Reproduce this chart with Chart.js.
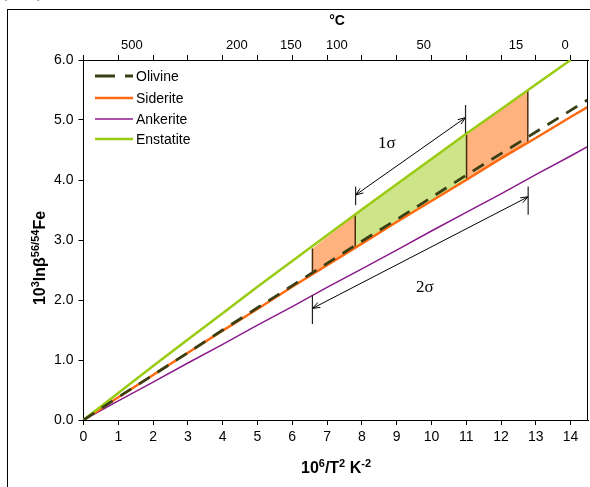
<!DOCTYPE html>
<html>
<head>
<meta charset="utf-8">
<script src="https://cdn.jsdelivr.net/npm/chart.js@4.4.0/dist/chart.umd.min.js"></script>
<style>
body { margin: 0; background: #fff; }
#wrap { position: relative; width: 590px; height: 487px; overflow: hidden; }
#frame { position: absolute; left: 7px; top: 9px; width: 600px; height: 500px; border: 1.5px solid #000; }
#tag { position: absolute; left: 1px; top: -19px; font: 18px "Liberation Serif", serif; letter-spacing: 11px; }
canvas { position: absolute; left: 0; top: 0; }
</style>
</head>
<body>
<div id="wrap">
  <div id="frame"></div>
  <div id="tag">(a)</div>
  <canvas id="myChart" width="590" height="487"></canvas>
</div>
<script>
// x values (10^6/T^2) and the four mineral curves
var xs = [0, 1, 2, 3, 4, 5, 6, 7, 8, 9, 10, 11, 12, 13, 14, 14.5];
var olivine   = [0, 0.38, 0.75, 1.12, 1.50, 1.87, 2.24, 2.61, 2.98, 3.34, 3.71, 4.08, 4.44, 4.80, 5.16, 5.34];
var siderite  = [0, 0.38, 0.75, 1.12, 1.49, 1.85, 2.22, 2.58, 2.94, 3.30, 3.65, 4.00, 4.36, 4.70, 5.05, 5.22];
var ankerite  = [0, 0.32, 0.63, 0.95, 1.26, 1.58, 1.89, 2.21, 2.52, 2.83, 3.15, 3.46, 3.77, 4.09, 4.40, 4.56];
var enstatite = [0, 0.45, 0.90, 1.34, 1.78, 2.22, 2.65, 3.08, 3.51, 3.93, 4.35, 4.77, 5.18, 5.59, 6.00, null];

// shaded bands between enstatite (top) and siderite (bottom)
var bandX      = [6.58, 7.81, 11.01, 12.77];
var bandTop    = [2.86, 3.42, 4.76, 5.50];
var bandBottom = [2.43, 2.87, 4.01, 4.62];
var bandColors = ['#ffb27e', '#cde488', '#ffb27e'];

// sigma arrows: [x0, y0, x1, y1], end bars: [x, yLow, yHigh]
var arrow1 = [7.82, 3.75, 10.98, 5.04];
var bars1  = [[7.82, 3.58, 3.89], [10.98, 4.78, 5.25]];
var arrow2 = [6.58, 1.86, 12.78, 3.72];
var bars2  = [[6.58, 1.60, 2.08], [12.78, 3.42, 3.89]];
var sigmaText = ['1σ', '2σ'];
var sigmaPos  = [[8.72, 4.61], [9.81, 2.2]];

// top axis (°C) labels and where they sit on the 10^6/T^2 scale
var topLabels = ['500', '200', '150', '100', '50', '15', '0'];
var topLabelX = [1.39, 4.41, 5.96, 7.28, 9.78, 12.43, 13.84];

var yTicks = [0, 1, 2, 3, 4, 5, 6];

function pts(arr) {
    var out = [];
    for (var i = 0; i < xs.length; i++) {
        if (arr[i] !== null) out.push({ x: xs[i], y: arr[i] });
    }
    return out;
}

var datasets = [];
// fills
for (var i = 0; i < bandColors.length; i++) {
    datasets.push({
        label: 'bandTop' + i,
        data: [{ x: bandX[i], y: bandTop[i] }, { x: bandX[i + 1], y: bandTop[i + 1] }],
        borderWidth: 0, pointRadius: 0, backgroundColor: bandColors[i],
        fill: '+1', order: 10
    });
    datasets.push({
        label: 'bandBottom' + i,
        data: [{ x: bandX[i], y: bandBottom[i] }, { x: bandX[i + 1], y: bandBottom[i + 1] }],
        borderWidth: 0, pointRadius: 0, fill: false, order: 10
    });
}
// dark edges of the bands
for (var j = 0; j < bandX.length; j++) {
    datasets.push({
        label: 'edge' + j,
        data: [{ x: bandX[j], y: bandBottom[j] }, { x: bandX[j], y: bandTop[j] }],
        borderColor: '#4a2c0c', borderWidth: 1.5, pointRadius: 0, fill: false, order: 5
    });
}
var mainSets = [
    { label: 'Olivine', data: pts(olivine), borderColor: '#3b3f14', borderWidth: 2.8, borderDash: [13, 9], order: 1 },
    { label: 'Siderite', data: pts(siderite), borderColor: '#ff6a10', borderWidth: 2.5, order: 3 },
    { label: 'Ankerite', data: pts(ankerite), borderColor: '#8b1a8b', borderWidth: 1.5, order: 3 },
    { label: 'Enstatite', data: pts(enstatite), borderColor: '#99cc11', borderWidth: 2.5, order: 2 }
];
mainSets.forEach(function (d) {
    d.pointRadius = 0;
    d.fill = false;
    d.tension = 0;
    datasets.push(d);
});

function drawSupText(ctx, parts, x, y, align) {
    // parts: [text, isSup]
    var big = 'bold 16px Arial, "Liberation Sans"', small = 'bold 11px Arial, "Liberation Sans"';
    var w = 0;
    parts.forEach(function (p) {
        ctx.font = p[1] ? small : big;
        w += ctx.measureText(p[0]).width;
    });
    var cx = align === 'center' ? x - w / 2 : x;
    ctx.textAlign = 'left';
    ctx.textBaseline = 'alphabetic';
    parts.forEach(function (p) {
        ctx.font = p[1] ? small : big;
        ctx.fillText(p[0], cx, p[1] ? y - 6 : y);
        cx += ctx.measureText(p[0]).width;
    });
}

function arrowHead(ctx, x, y, ang) {
    var len = 8, spread = 0.35;
    ctx.beginPath();
    ctx.moveTo(x - len * Math.cos(ang - spread), y - len * Math.sin(ang - spread));
    ctx.lineTo(x, y);
    ctx.lineTo(x - len * Math.cos(ang + spread), y - len * Math.sin(ang + spread));
    ctx.stroke();
}

const extras = {
    id: 'extras',
    afterDatasetsDraw(chart) {
        const ctx = chart.ctx, xsc = chart.scales.x, ysc = chart.scales.y;
        const px = v => xsc.getPixelForValue(v), py = v => ysc.getPixelForValue(v);
        const area = chart.chartArea;
        ctx.save();
        // right border of the plot
        ctx.strokeStyle = '#000';
        ctx.lineWidth = 1;
        ctx.beginPath();
        ctx.moveTo(area.right - 0.5, area.top);
        ctx.lineTo(area.right - 0.5, area.bottom);
        ctx.stroke();

        // sigma arrows
        [[arrow1, bars1], [arrow2, bars2]].forEach(function (a, k) {
            var ar = a[0];
            var x0 = px(ar[0]), y0 = py(ar[1]), x1 = px(ar[2]), y1 = py(ar[3]);
            var ang = Math.atan2(y1 - y0, x1 - x0);
            ctx.strokeStyle = '#000';
            ctx.lineWidth = 1;
            ctx.beginPath();
            ctx.moveTo(x0, y0);
            ctx.lineTo(x1, y1);
            ctx.stroke();
            arrowHead(ctx, x1, y1, ang);
            arrowHead(ctx, x0, y0, ang + Math.PI);
            ctx.strokeStyle = '#222';
            ctx.lineWidth = 1.2;
            a[1].forEach(function (b) {
                ctx.beginPath();
                ctx.moveTo(px(b[0]), py(b[1]));
                ctx.lineTo(px(b[0]), py(b[2]));
                ctx.stroke();
            });
            ctx.fillStyle = '#000';
            ctx.font = '17px "Liberation Serif", "Times New Roman", serif';
            ctx.textAlign = 'center';
            ctx.textBaseline = 'middle';
            ctx.fillText(sigmaText[k], px(sigmaPos[k][0]), py(sigmaPos[k][1]));
        });
        ctx.restore();
    },
    afterDraw(chart) {
        const ctx = chart.ctx, xsc = chart.scales.x;
        ctx.save();
        ctx.fillStyle = '#000';
        // top °C labels
        ctx.font = '13px Arial, "Liberation Sans"';
        ctx.textAlign = 'center';
        ctx.textBaseline = 'middle';
        topLabels.forEach(function (t, i) {
            ctx.fillText(t, xsc.getPixelForValue(topLabelX[i]), 45);
        });
        ctx.font = 'bold 14px Arial, "Liberation Sans"';
        ctx.fillText('°C', 337, 21);

        // x title
        drawSupText(ctx, [['10', 0], ['6', 1], ['/T', 0], ['2', 1], [' K', 0], ['-2', 1]], 336, 473, 'center');

        // y title (rotated)
        ctx.save();
        ctx.translate(45, 258);
        ctx.rotate(-Math.PI / 2);
        drawSupText(ctx, [['10', 0], ['3', 1], ['ln\u03b2', 0], ['56/54', 1], ['Fe', 0]], 0, 0, 'center');
        ctx.restore();

        // legend
        var ly = [76, 98, 119, 139];
        mainSets.forEach(function (d, i) {
            ctx.save();
            ctx.strokeStyle = d.borderColor;
            ctx.lineWidth = d.borderWidth;
            if (d.borderDash) ctx.setLineDash([20, 10]);
            ctx.beginPath();
            ctx.moveTo(95, ly[i]);
            ctx.lineTo(133, ly[i]);
            ctx.stroke();
            ctx.restore();
            ctx.fillStyle = '#000';
            ctx.font = '14px Arial, "Liberation Sans"';
            ctx.textAlign = 'left';
            ctx.textBaseline = 'middle';
            ctx.fillText(d.label, 136, ly[i] + 1);
        });
        ctx.restore();
    }
};

const axisGrid = { display: true, drawOnChartArea: false, drawTicks: true, tickLength: 5, color: '#000' };
const axisBorder = { display: true, color: '#000', width: 1 };

const ctx = document.getElementById('myChart').getContext('2d');
const myChart = new Chart(ctx, {
    type: 'line',
    data: { datasets: datasets },
    options: {
        responsive: false,
        animation: false,
        devicePixelRatio: 1,
        layout: { padding: { left: 0, right: 2, top: 0, bottom: 0 } },
        plugins: { legend: { display: false }, tooltip: { enabled: false } },
        scales: {
            x: {
                type: 'linear', position: 'bottom', min: 0, max: 14.5,
                grid: axisGrid, border: axisBorder,
                ticks: { stepSize: 1, includeBounds: false, color: '#000', padding: 4,
                    font: { family: 'Arial, "Liberation Sans"', size: 14 } },
                afterFit: function (s) { s.height = 67; }
            },
            xt: {
                type: 'linear', position: 'top', min: 0, max: 14.5,
                grid: axisGrid, border: axisBorder,
                ticks: { stepSize: 1, includeBounds: false, callback: function () { return ''; } },
                afterFit: function (s) { s.height = 60; }
            },
            y: {
                min: 0, max: 6,
                grid: axisGrid, border: axisBorder,
                afterBuildTicks: function (s) { s.ticks = yTicks.map(function (v) { return { value: v }; }); },
                ticks: { color: '#000', padding: 5,
                    font: { family: 'Arial, "Liberation Sans"', size: 14 },
                    callback: function (v) { return Number(v).toFixed(1); } },
                afterFit: function (s) { s.width = 83.5; }
            }
        }
    },
    plugins: [extras]
});
</script>
</body>
</html>
